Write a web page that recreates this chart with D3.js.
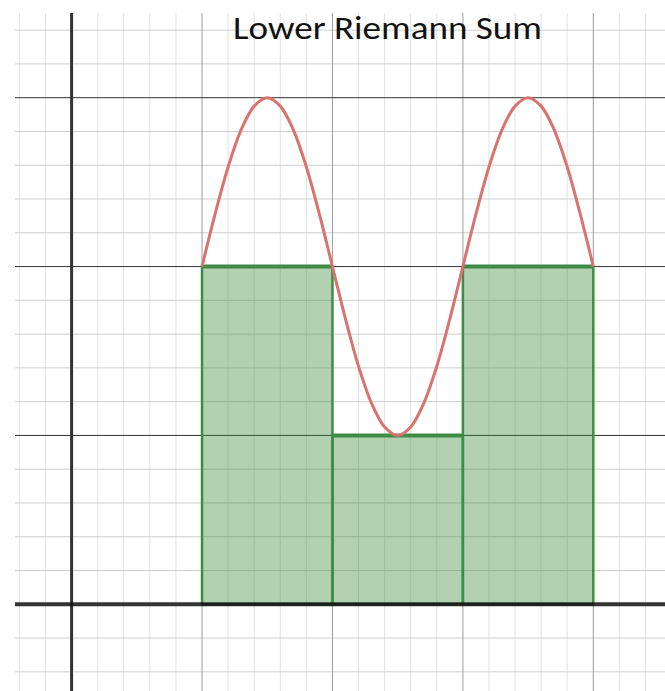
<!DOCTYPE html>
<head>
  <meta charset="utf-8">
  <script src="https://cdnjs.cloudflare.com/ajax/libs/d3/7.8.5/d3.min.js"></script>
</head>

<style>
  body { margin: 0; background: #fff; }
  .minor_v { stroke: #e2e2e2; stroke-width: 1; }
  .minor_h { stroke: #cfcfcf; stroke-width: 1; }
  .major_v { stroke: #9a9a9a; stroke-width: 1; }
  .major_h { stroke: #333; stroke-width: 1; }
  .bar { fill: rgb(60,140,60); fill-opacity: 0.4; stroke: #3f8c47; stroke-width: 2.5; }
  .bar_top { stroke: #3f8c47; stroke-width: 4; }
  .curve { fill: none; stroke: #d9736f; stroke-width: 3; }
  .title { font-family: Carlito, Calibri, Lato, sans-serif; font-size: 33px; fill: #111; }
</style>

<body>
  <svg width="665" height="691" class="riemann"></svg>

  <script>
  // function
  let curveX = [1.0, 1.1, 1.2, 1.3, 1.4, 1.5, 1.6, 1.7, 1.8, 1.9, 2.0,
                2.1, 2.2, 2.3, 2.4, 2.5, 2.6, 2.7, 2.8, 2.9, 3.0,
                3.1, 3.2, 3.3, 3.4, 3.5, 3.6, 3.7, 3.8, 3.9, 4.0];
  let curveY = [2.00, 2.31, 2.59, 2.81, 2.95, 3.00, 2.95, 2.81, 2.59, 2.31, 2.00,
                1.69, 1.41, 1.19, 1.05, 1.00, 1.05, 1.19, 1.41, 1.69, 2.00,
                2.31, 2.59, 2.81, 2.95, 3.00, 2.95, 2.81, 2.59, 2.31, 2.00];

  // lower sum rectangles
  let barStart = [1, 2, 3];
  let barEnd = [2, 3, 4];
  let barHeight = [2, 1, 2];

  let majorX = [1, 2, 3, 4];
  let majorY = [1, 2, 3];
  let title = "Lower Riemann Sum";

  let svg = d3.select(".riemann");

  let x = d3.scaleLinear().domain([0, 4]).range([71.6, 593.3]);
  let y = d3.scaleLinear().domain([0, 3]).range([604.3, 97.7]);

  let gridLeft = 15, gridRight = 665, gridTop = 13, gridBottom = 691;

  let minorX = d3.range(-2, 23).map(function(i) { return i / 5; })
      .filter(function(v) { return majorX.indexOf(v) < 0 && v !== 0; });
  let minorY = d3.range(-3, 18).map(function(i) { return i / 5; })
      .filter(function(v) { return majorY.indexOf(v) < 0 && v !== 0; });

  let grid = svg.append("g");

  grid.selectAll(".minor_v")
    .data(minorX)
    .enter().append("line")
      .attr("class", "minor_v")
      .attr("x1", function(d) { return x(d); })
      .attr("x2", function(d) { return x(d); })
      .attr("y1", gridTop)
      .attr("y2", gridBottom);

  grid.selectAll(".minor_h")
    .data(minorY)
    .enter().append("line")
      .attr("class", "minor_h")
      .attr("x1", gridLeft)
      .attr("x2", gridRight)
      .attr("y1", function(d) { return y(d); })
      .attr("y2", function(d) { return y(d); });

  grid.selectAll(".major_v")
    .data(majorX)
    .enter().append("line")
      .attr("class", "major_v")
      .attr("x1", function(d) { return x(d); })
      .attr("x2", function(d) { return x(d); })
      .attr("y1", gridTop)
      .attr("y2", gridBottom);

  grid.selectAll(".major_h")
    .data(majorY)
    .enter().append("line")
      .attr("class", "major_h")
      .attr("x1", gridLeft)
      .attr("x2", gridRight)
      .attr("y1", function(d) { return y(d); })
      .attr("y2", function(d) { return y(d); });

  // title sits behind nothing, grid shows through
  svg.append("text")
      .attr("class", "title")
      .attr("x", 387.5)
      .attr("y", 39)
      .attr("text-anchor", "middle")
      .attr("textLength", 309)
      .attr("lengthAdjust", "spacingAndGlyphs")
      .text(title);

  let bars = barStart.map(function(s, i) {
    return {x0: s, x1: barEnd[i], h: barHeight[i]};
  });

  svg.selectAll(".bar")
    .data(bars)
    .enter().append("rect")
      .attr("class", "bar")
      .attr("x", function(d) { return x(d.x0); })
      .attr("y", function(d) { return y(d.h); })
      .attr("width", function(d) { return x(d.x1) - x(d.x0); })
      .attr("height", function(d) { return y(0) - y(d.h); });

  svg.selectAll(".bar_top")
    .data(bars)
    .enter().append("line")
      .attr("class", "bar_top")
      .attr("x1", function(d) { return x(d.x0); })
      .attr("x2", function(d) { return x(d.x1); })
      .attr("y1", function(d) { return y(d.h); })
      .attr("y2", function(d) { return y(d.h); });

  // axes
  svg.append("line")
      .attr("x1", x(0)).attr("x2", x(0))
      .attr("y1", gridTop).attr("y2", gridBottom)
      .attr("stroke", "#333").attr("stroke-width", 3);

  svg.append("line")
      .attr("x1", gridLeft).attr("x2", gridRight)
      .attr("y1", y(0)).attr("y2", y(0))
      .attr("stroke", "#111").attr("stroke-opacity", 0.85).attr("stroke-width", 4);

  let line = d3.line()
      .x(function(d, i) { return x(curveX[i]); })
      .y(function(d) { return y(d); })
      .curve(d3.curveCatmullRom);

  svg.append("path")
      .datum(curveY)
      .attr("class", "curve")
      .attr("d", line);
  </script>
</body>
